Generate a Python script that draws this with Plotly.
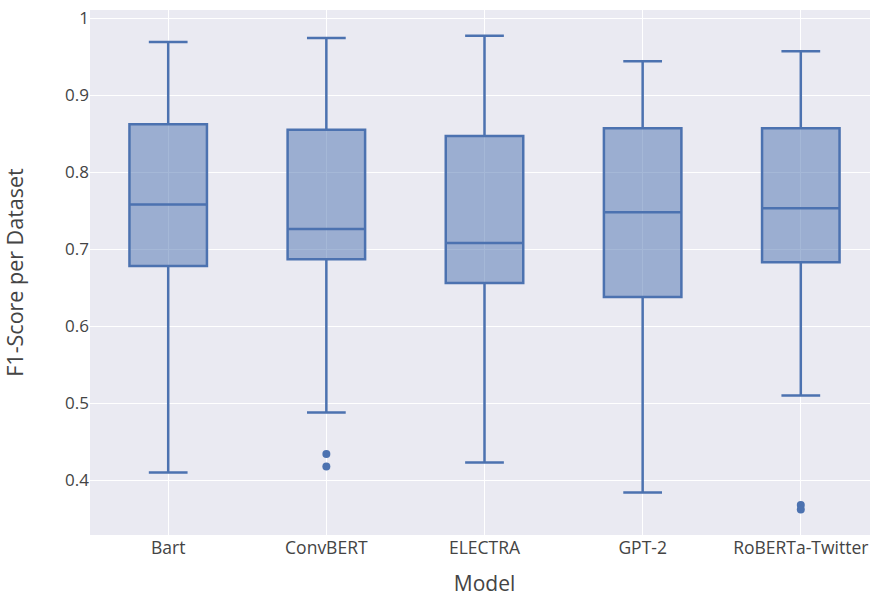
import plotly.graph_objects as go

models = ["Bart", "ConvBERT", "ELECTRA", "GPT-2", "RoBERTa-Twitter"]
q1 = [0.678, 0.687, 0.656, 0.638, 0.683]
median = [0.758, 0.726, 0.708, 0.748, 0.753]
q3 = [0.862, 0.855, 0.847, 0.857, 0.857]
lowerfence = [0.410, 0.488, 0.423, 0.384, 0.510]
upperfence = [0.969, 0.974, 0.977, 0.944, 0.957]
outlier_models = ["ConvBERT", "ConvBERT", "RoBERTa-Twitter", "RoBERTa-Twitter"]
outlier_values = [0.434, 0.418, 0.368, 0.362]

color = "#4C72B0"

fig = go.Figure()
fig.add_trace(go.Box(
    x=models,
    q1=q1, median=median, q3=q3,
    lowerfence=lowerfence, upperfence=upperfence,
    boxpoints=False,
    width=0.49,
    line=dict(color=color, width=2.5),
    fillcolor="rgba(76,114,176,0.5)",
    whiskerwidth=0.5,
    showlegend=False,
))
fig.add_trace(go.Scatter(
    x=outlier_models, y=outlier_values, mode="markers",
    marker=dict(color=color, size=8), showlegend=False,
))

fig.update_layout(
    template="seaborn",
    width=879, height=597,
    margin=dict(l=90, r=0, t=10, b=62),
    font=dict(family="Open Sans, Arial, sans-serif", size=17, color="#444"),
    plot_bgcolor="#EAEAF2",
    paper_bgcolor="white",
    xaxis=dict(title=dict(text="Model", font=dict(size=21), standoff=30),
               tickfont=dict(size=17.5), showgrid=True, gridcolor="white",
               automargin=False, ticklabeloverflow="allow"),
    yaxis=dict(title=dict(text="F1-Score per Dataset", font=dict(size=21.5), standoff=37),
               tickfont=dict(size=17), range=[0.329, 1.0104],
               tickvals=[0.4, 0.5, 0.6, 0.7, 0.8, 0.9, 1.0],
               ticktext=["0.4", "0.5", "0.6", "0.7", "0.8", "0.9", "1"],
               gridcolor="white", zeroline=False, automargin=False,
               ticklabeloverflow="allow"),
)

fig.write_html(
    "out.html",
    config={"displayModeBar": False},
    post_script="document.body.style.margin='0';document.body.style.overflow='hidden';",
)
